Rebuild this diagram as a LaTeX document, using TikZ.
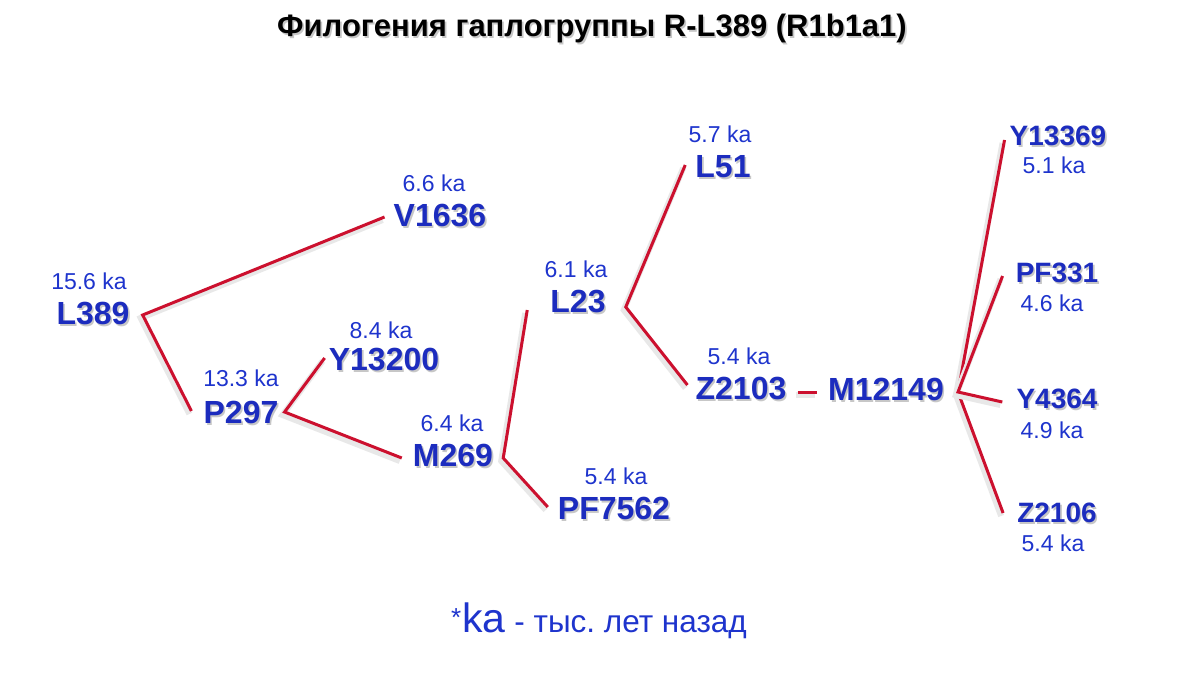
\documentclass[tikz,border=0pt]{standalone}
\usepackage{fontspec}
\setmainfont{Liberation Sans}

\definecolor{branchred}{RGB}{204,16,46}
\definecolor{snpblue}{RGB}{28,44,190}
\definecolor{ageblue}{RGB}{30,52,205}

% text with a soft grey copy behind it
\newcommand{\shadowed}[1]{\makebox[0pt][l]{\hspace{1.6pt}\raisebox{-2pt}{\textcolor{black!22}{#1}}}#1}

\tikzset{
    snp/.style={inner sep=0pt, text=snpblue, font=\fontsize{32}{32}\selectfont\bfseries},
    snpsmall/.style={snp, font=\fontsize{28}{28}\selectfont\bfseries},
    age/.style={inner sep=0pt, text=ageblue, font=\fontsize{23}{23}\selectfont},
    branch/.style={draw=branchred, line width=3pt,
        preaction={draw=black!9, line width=6pt, transform canvas={shift={(-2pt,-3pt)}}}},
}

\begin{document}
\begin{tikzpicture}[x=1pt, y=-1pt]

    % Fix the page to the reference size
    \fill[white] (0,0) rectangle (1200,675);
    \useasboundingbox (0,0) rectangle (1200,675);

    % Title
    \node[inner sep=0pt] (title) at (592,29)
        {\fontsize{31}{31}\selectfont\bfseries\shadowed{Филогения гаплогруппы R-L389 (R1b1a1)}};

    % Haplogroups (SNP names) and their ages
    \node[snp] (L389) at (93,315) {\shadowed{L389}};
    \node[age] (L389age) at (89,281) {15.6 ka};

    \node[snp] (V1636) at (440,217) {\shadowed{V1636}};
    \node[age] (V1636age) at (434,183) {6.6 ka};

    \node[snp] (P297) at (241,413) {\shadowed{P297}};
    \node[age] (P297age) at (241,378) {13.3 ka};

    \node[snp] (Y13200) at (384,361) {\shadowed{Y13200}};
    \node[age] (Y13200age) at (381,330) {8.4 ka};

    \node[snp] (M269) at (453,456) {\shadowed{M269}};
    \node[age] (M269age) at (452,423) {6.4 ka};

    \node[snp] (PF7562) at (614,509) {\shadowed{PF7562}};
    \node[age] (PF7562age) at (616,476) {5.4 ka};

    \node[snp] (L23) at (578,303) {\shadowed{L23}};
    \node[age] (L23age) at (576,269) {6.1 ka};

    \node[snp] (L51) at (723,168) {\shadowed{L51}};
    \node[age] (L51age) at (720,134) {5.7 ka};

    \node[snp] (Z2103) at (741,390) {\shadowed{Z2103}};
    \node[age] (Z2103age) at (739,356) {5.4 ka};

    \node[snp] (M12149) at (886,390) {\shadowed{M12149}};

    % Right column: ages below the names
    \node[snpsmall] (Y13369) at (1058,137) {\shadowed{Y13369}};
    \node[age] (Y13369age) at (1054,165) {5.1 ka};

    \node[snpsmall] (PF331) at (1057,274) {\shadowed{PF331}};
    \node[age] (PF331age) at (1052,303) {4.6 ka};

    \node[snpsmall] (Y4364) at (1057,400) {\shadowed{Y4364}};
    \node[age] (Y4364age) at (1052,430) {4.9 ka};

    \node[snpsmall] (Z2106) at (1057,514) {\shadowed{Z2106}};
    \node[age] (Z2106age) at (1053,543) {5.4 ka};

    % Branches
    \draw[branch] ([xshift=-9pt]V1636.west) -- ([xshift=13pt]L389.east) -- ([xshift=-12pt,yshift=2pt]P297.west);
    \draw[branch] ([xshift=-4pt,yshift=3pt]Y13200.west) -- ([xshift=6pt,yshift=1pt]P297.east) -- ([xshift=-11pt,yshift=-2pt]M269.west);
    \draw[branch] ([xshift=-23pt,yshift=-7pt]L23.west) -- ([xshift=10pt,yshift=-2pt]M269.east) -- ([xshift=-10pt,yshift=2pt]PF7562.west);
    \draw[branch] ([xshift=-10pt,yshift=3pt]L51.west) -- ([xshift=20pt,yshift=-4pt]L23.east) -- ([xshift=-8pt,yshift=5pt]Z2103.west);
    \draw[branch] ([xshift=11pt,yshift=-2pt]Z2103.east) -- ([xshift=-11pt,yshift=-2pt]M12149.west);

    % Fan of M12149
    \draw[branch] ([xshift=-5pt,yshift=-3pt]Y13369.west) -- ([xshift=14pt,yshift=-2pt]M12149.east) -- ([xshift=-14pt,yshift=1pt]Z2106.west);
    \draw[branch] ([xshift=-13pt,yshift=-2pt]PF331.west) -- ([xshift=14pt,yshift=-2pt]M12149.east) -- ([xshift=-14pt,yshift=-2pt]Y4364.west);

    % Footnote
    \node[anchor=base west, inner sep=0pt, text=ageblue] (footnote) at (451,632)
        {\fontsize{26}{26}\selectfont\raisebox{6pt}{*}\hspace{1pt}\fontsize{41}{41}\selectfont ka\fontsize{31.5}{31}\selectfont{} - тыс.\ лет назад};

\end{tikzpicture}
\end{document}
